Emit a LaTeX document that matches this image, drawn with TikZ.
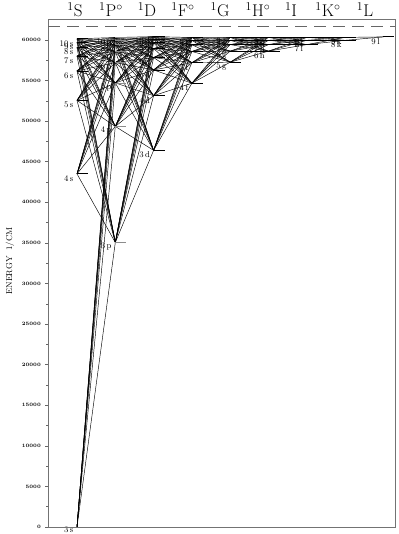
\documentclass[tikz,border=0pt]{standalone}
\begin{document}
\begin{tikzpicture}[x=1pt,y=1pt,
  frame/.style={draw=black!55,line width=0.9pt},
  tr/.style={draw=black,line width=0.45pt},
  levline/.style={line width=0.8pt},
  lvlab/.style={font=\fontsize{8.5}{9}\selectfont,anchor=east,inner sep=0pt},
  hdr/.style={font=\fontsize{17}{17}\selectfont,anchor=base,inner sep=0pt},
  ticklab/.style={font=\fontsize{5}{5}\selectfont\bfseries,anchor=east,inner sep=0pt},
  limit/.style={draw=black!60,line width=0.7pt,dash pattern=on 12pt off 7pt}]
\useasboundingbox (0,0) rectangle (398,534);
% frame corners
\coordinate (fbl) at (48,7);
\coordinate (ftr) at (395,515);
\coordinate (dl) at (48,508);
\coordinate (dr) at (395,508);
% levels: column/n/energy (1000 cm^-1)
\foreach \c/\n/\E in {
  0/3/0, 0/4/43.503, 0/5/52.556, 0/6/56.187,
  0/7/58.017, 0/8/59.058, 0/9/59.710, 0/10/60.145,
  1/3/35.051, 1/4/49.347, 1/5/54.707, 1/6/57.215,
  1/7/58.582, 1/8/59.406, 1/9/59.939, 1/10/60.304,
  2/3/46.403, 2/4/53.135, 2/5/56.308, 2/6/57.833,
  2/7/58.950, 2/8/59.640, 2/9/60.097, 2/10/60.416,
  3/4/54.676, 3/5/57.204, 3/6/58.582, 3/7/59.406,
  3/8/59.939, 3/9/60.304,
  4/5/57.263, 4/6/58.623, 4/7/59.431, 4/8/59.956, 4/9/60.316,
  5/6/58.623, 5/7/59.431, 5/8/59.956, 5/9/60.316,
  6/7/59.431, 6/8/59.956, 6/9/60.316,
  7/8/59.956, 7/9/60.316,
  8/9/60.380}{
  \coordinate (v\c-\n) at ({77+38.3*\c},{7+8.117*\E});
}
% transitions
\foreach \a in {3,...,10}{\foreach \b in {3,...,10}{\draw[tr] (v0-\a) -- (v1-\b);}}
\foreach \a in {3,...,10}{\foreach \b in {3,...,10}{\draw[tr] (v1-\a) -- (v2-\b);}}
\foreach \a in {3,...,10}{\foreach \b in {4,...,9}{\draw[tr] (v2-\a) -- (v3-\b);}}
\foreach \a in {4,...,9}{\foreach \b in {5,...,9}{\draw[tr] (v3-\a) -- (v4-\b);}}
\foreach \a in {5,...,9}{\foreach \b in {6,...,9}{\draw[tr] (v4-\a) -- (v5-\b);}}
\foreach \a in {6,...,9}{\foreach \b in {7,...,9}{\draw[tr] (v5-\a) -- (v6-\b);}}
\foreach \a in {7,...,9}{\foreach \b in {8,9}{\draw[tr] (v6-\a) -- (v7-\b);}}
\foreach \a in {8,9}{\draw[tr] (v7-\a) -- (v8-9);}
% level lines and labels
\foreach \c/\n/\l/\col/\dy in {
  0/3/s/black/-3.2, 0/4/s/black/-4.5, 0/5/s/black/-4.5, 0/6/s/black/-4.5, 0/7/s/black/-4.5, 0/8/s/black/-4.5, 0/9/s/black/-4.5, 0/10/s/black/-4.5,
  1/3/p/black!45/-4.5, 1/4/p/black!45/-4.5, 1/5/p/black!45/-4.5, 1/6/p/black!45/-4.5, 1/7/p/black!45/-4.5, 1/8/p/black!45/-4.5, 1/9/p/black!45/-4.5, 1/10/p/black!45/-4.5,
  2/3/d/black/-4.5, 2/4/d/black/-4.5, 2/5/d/black/-4.5, 2/6/d/black/-4.5, 2/7/d/black/-4.5, 2/8/d/black/-4.5, 2/9/d/black/-4.5, 2/10/d/black/-4.5,
  3/4/f/black/-4.5, 3/5/f/black/-4.5, 3/6/f/black/-4.5, 3/7/f/black/-4.5, 3/8/f/black/-4.5, 3/9/f/black/-4.5,
  4/5/g/black/-4.5, 4/6/g/black/-4.5, 4/7/g/black/-4.5, 4/8/g/black/-4.5, 4/9/g/black/-4.5,
  5/6/h/black/-4.5, 5/7/h/black/-4.5, 5/8/h/black/-4.5, 5/9/h/black/-4.5,
  6/7/i/black/-4.5, 6/8/i/black/-4.5, 6/9/i/black/-4.5,
  7/8/k/black/-4.5, 7/9/k/black/-4.5,
  8/9/l/black/-4.5}{
  \coordinate (e\c-\n) at ([xshift=11pt]v\c-\n);
  \draw[levline,draw=\col] (v\c-\n) -- (e\c-\n);
  \node[lvlab] (t\c-\n) at ([shift={(-3.5,\dy)}]v\c-\n) {\n\,\l};
}
% frame, limit
\draw[frame] (fbl) rectangle (ftr);
\draw[limit] (dl) -- (dr);
% axis ticks
\foreach \k in {0,...,12}{
  \coordinate (tk\k) at (48,{7+\k*40.585});
  \draw[black!60,line width=0.5pt] (tk\k) -- ++(-3,0);
  \pgfmathtruncatemacro{\val}{\k*5}
  \node[ticklab] (tl\k) at ([xshift=-7pt]tk\k) {\ifnum\k=0 0\else\val000\fi};
}
\foreach \k in {0,...,11}{
  \coordinate (mk\k) at (48,{7+\k*40.585+20.29});
  \draw[black!60,line width=0.5pt] (mk\k) -- ++(-2,0);
}
% axis label
\node[font=\fontsize{8.5}{9}\selectfont,rotate=90] (ylab) at (10,273) {ENERGY\ \ 1/CM};
% column headers
\node[hdr] (hS) at (75,517) {$^{1}$S};
\node[hdr] (hP) at (111,517) {$^{1}$P$^{\circ}$};
\node[hdr] (hD) at (147,517) {$^{1}$D};
\node[hdr] (hF) at (183,517) {$^{1}$F$^{\circ}$};
\node[hdr] (hG) at (220,517) {$^{1}$G};
\node[hdr] (hH) at (258,517) {$^{1}$H$^{\circ}$};
\node[hdr] (hI) at (291,517) {$^{1}$I};
\node[hdr] (hK) at (328,517) {$^{1}$K$^{\circ}$};
\node[hdr] (hL) at (365,517) {$^{1}$L};
\end{tikzpicture}
\end{document}
